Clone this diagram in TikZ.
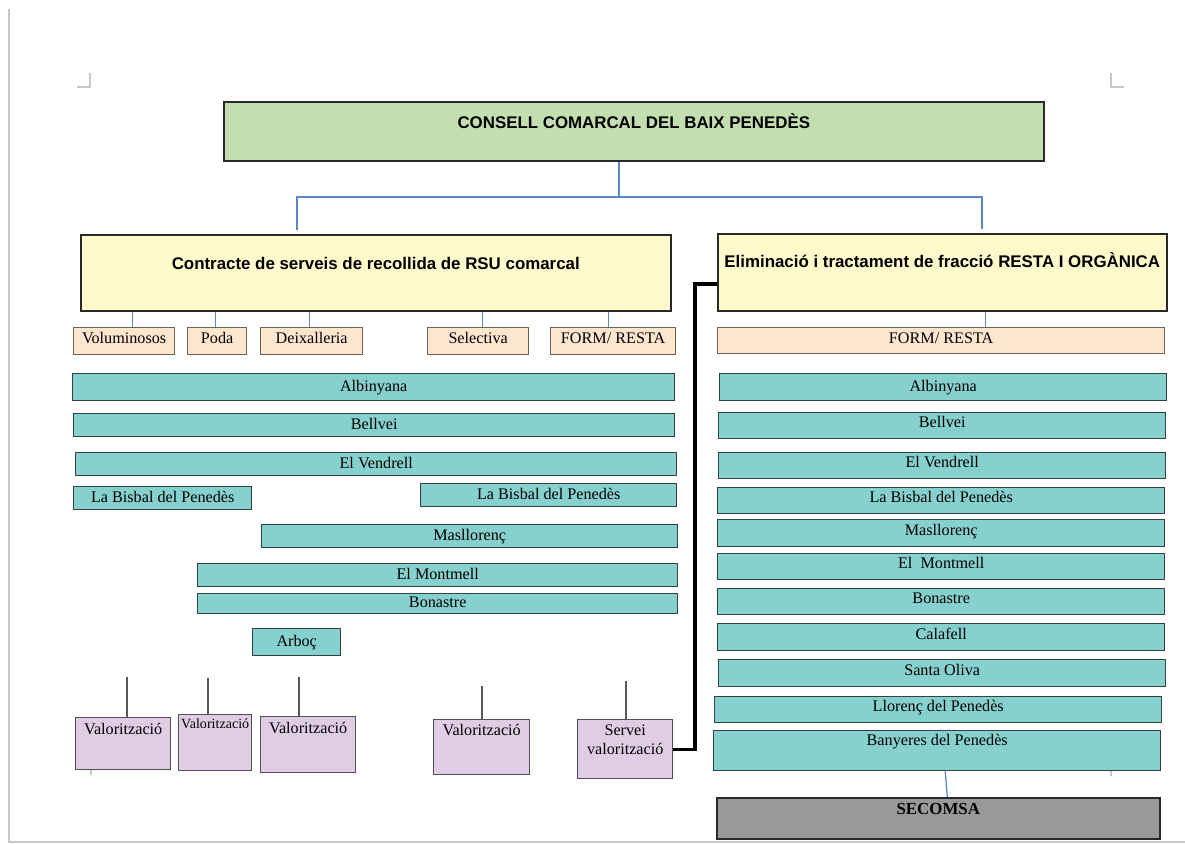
\documentclass[tikz,border=0pt]{standalone}
\usepackage{fontspec}
\setmainfont{Liberation Serif}
\newfontfamily\headsans{Liberation Sans}
\newcommand{\pxu}{0.025cm}
\definecolor{headgreen}{RGB}{195,223,176}
\definecolor{contryellow}{RGB}{255,249,204}
\definecolor{fracpeach}{RGB}{253,229,206}
\definecolor{munteal}{RGB}{134,208,205}
\definecolor{vallilac}{RGB}{224,204,228}
\definecolor{plantgrey}{RGB}{153,153,153}
\definecolor{wireblue}{RGB}{91,134,200}
\definecolor{boxline}{RGB}{40,40,40}
\definecolor{peachline}{RGB}{110,98,86}
\definecolor{tealline}{RGB}{50,66,66}
\definecolor{lilacline}{RGB}{80,80,80}
\tikzset{box/.style={draw=boxline, line width=1.1pt, inner sep=0pt, anchor=north west, align=center}}
\tikzset{wh/.style 2 args={minimum width=#1*\pxu, minimum height=#2*\pxu}}
\tikzset{txt/.style={text height=1.5ex, text depth=.25ex}}
\tikzset{lift/.style={text depth=.25ex+#1*\pxu}}
\tikzset{council/.style={box, txt, fill=headgreen, font=\headsans\bfseries\fontsize{12}{14}\selectfont}}
\tikzset{contract/.style={box, txt, fill=contryellow, font=\headsans\bfseries\fontsize{12}{14}\selectfont}}
\tikzset{fraction/.style={box, txt, lift=3, fill=fracpeach, draw=peachline, line width=0.9pt, font=\fontsize{11.5}{13.5}\selectfont}}
\tikzset{town/.style={box, txt, fill=munteal, draw=tealline, line width=1pt, font=\fontsize{11.5}{13.5}\selectfont}}
\tikzset{rtown/.style={town, lift=4}}
\tikzset{recovery/.style={box, fill=vallilac, draw=lilacline, line width=1pt, font=\fontsize{11.5}{13.5}\selectfont}}
\tikzset{plant/.style={box, txt, fill=plantgrey, draw=boxline, font=\bfseries\fontsize{12}{14}\selectfont}}
\tikzset{wire/.style={draw=wireblue, line width=0.9pt}}
\tikzset{stem/.style={draw=black!65, line width=0.8pt}}
\tikzset{feed/.style={draw=black, line width=2.2pt}}
\tikzset{pagemark/.style={draw=black!22, line width=0.8pt}}

\begin{document}
\begin{tikzpicture}[x=\pxu, y=-\pxu]
\useasboundingbox (0,0) rectangle (1185,843);
\draw[pagemark, line width=1.3pt] (9,9) -- (9,842) -- (1185,842);
\draw[pagemark] (77,87) -- (90,87) -- (90,73);
\draw[pagemark] (1111,73) -- (1111,87) -- (1124,87);
\draw[pagemark] (91,768) -- (91,775);
\draw[pagemark] (1111,770) -- (1111,776);

\node[council, wh={820}{59}, lift=14] (council) at (223,101) {CONSELL COMARCAL DEL BAIX PENEDÈS};
\node[contract, wh={590}{76}, lift=14] (lcontr) at (80,234) {Contracte de serveis de recollida de RSU comarcal};
\node[contract, wh={449}{77}, lift=17] (rtract) at (717,233) {Eliminació i tractament de fracció RESTA I ORGÀNICA};

\node[fraction, wh={101}{27}] (vol) at (73,327) {Voluminosos};
\node[fraction, wh={59}{27}] (poda) at (187,327) {Poda};
\node[fraction, wh={102}{27}] (deix) at (260,327) {Deixalleria};
\node[fraction, wh={101}{27}] (sel) at (427,327) {Selectiva};
\node[fraction, wh={125}{27}] (lform) at (550,327) {FORM/ RESTA};
\node[fraction, wh={447}{26}] (rform) at (717,327) {FORM/ RESTA};

\node[town, wh={602}{27}] (lalb) at (72,373) {Albinyana};
\node[town, wh={601}{23}] (lbel) at (73,413) {Bellvei};
\node[town, wh={601}{23}] (lven) at (75,452) {El Vendrell};
\node[town, wh={178}{23}] (lbis) at (73,486) {La Bisbal del Penedès};
\node[town, wh={256}{23}] (lbisb) at (420,483) {La Bisbal del Penedès};
\node[town, wh={416}{23}] (lmas) at (261,524) {Masllorenç};
\node[town, wh={480}{23}] (lmon) at (197,563) {El Montmell};
\node[town, wh={480}{20}] (lbon) at (197,593) {Bonastre};
\node[town, wh={88}{27}] (larb) at (252,628) {Arboç};

\node[recovery, txt, wh={95}{52}, lift=26] (v1) at (75,717) {Valorització};
\node[recovery, txt, wh={73}{56}, lift=36, font=\fontsize{10}{12}\selectfont] (v2) at (178,714) {Valorització};
\node[recovery, txt, wh={95}{56}, lift=30] (v3) at (260,716) {Valorització};
\node[recovery, txt, wh={96}{55}, lift=31] (v4) at (433,719) {Valorització};
\node[recovery, wh={95}{59}, lift=18] (v5) at (577,719) {Servei\\valorització};

\node[town, wh={447}{27}] (ralb) at (719,373) {Albinyana};
\node[rtown, wh={447}{26}] (rbel) at (718,412) {Bellvei};
\node[rtown, wh={447}{26}] (rven) at (718,452) {El Vendrell};
\node[rtown, wh={447}{26}] (rbis) at (717,487) {La Bisbal del Penedès};
\node[rtown, wh={447}{27}] (rmas) at (717,519) {Masllorenç};
\node[rtown, wh={447}{26}] (rmon) at (717,553) {El~ Montmell};
\node[rtown, wh={447}{26}] (rbon) at (717,588) {Bonastre};
\node[rtown, wh={447}{27}] (rcal) at (717,623) {Calafell};
\node[rtown, wh={447}{27}] (rsol) at (718,659) {Santa Oliva};
\node[rtown, wh={447}{26}] (rllo) at (714,696) {Llorenç del Penedès};
\node[town, wh={447}{40}, lift=18] (rban) at (713,730) {Banyeres del Penedès};
\node[plant, wh={443}{41}, lift=16] (rsec) at (716,797) {SECOMSA};

\coordinate (tj) at (619,197);
\coordinate (lj) at (297,197);
\coordinate (rj) at (982,197);
\draw[wire] (tj |- council.south) -- (tj);
\draw[wire, shorten <=0.1cm, shorten >=0.1cm] (lj |- lcontr.north) -- (lj) -- (rj) -- (rj |- rtract.north);
\foreach \b/\d in {vol/8, poda/-2, deix/-2, sel/4, lform/-5}
  \draw[wire] ([xshift=\d*\pxu]\b.north) -- ([xshift=\d*\pxu]\b.north |- lcontr.south);
\draw[wire] ([xshift=44*\pxu]rform.north) -- ([xshift=44*\pxu]rform.north |- rtract.south);
\draw[wire] ([xshift=8*\pxu]rban.south) -- ([xshift=9*\pxu]rsec.north);

\foreach \v/\x/\y in {v1/127/677, v2/208/678, v3/299/677, v4/482/686, v5/626/681} {
  \coordinate (top\v) at (\x,\y);
  \draw[stem] (top\v) -- (top\v |- \v.north);
}
\coordinate (fj) at (695,284);
\draw[feed] (v5.east) -| (fj) -- (fj -| rtract.west);
\end{tikzpicture}
\end{document}
